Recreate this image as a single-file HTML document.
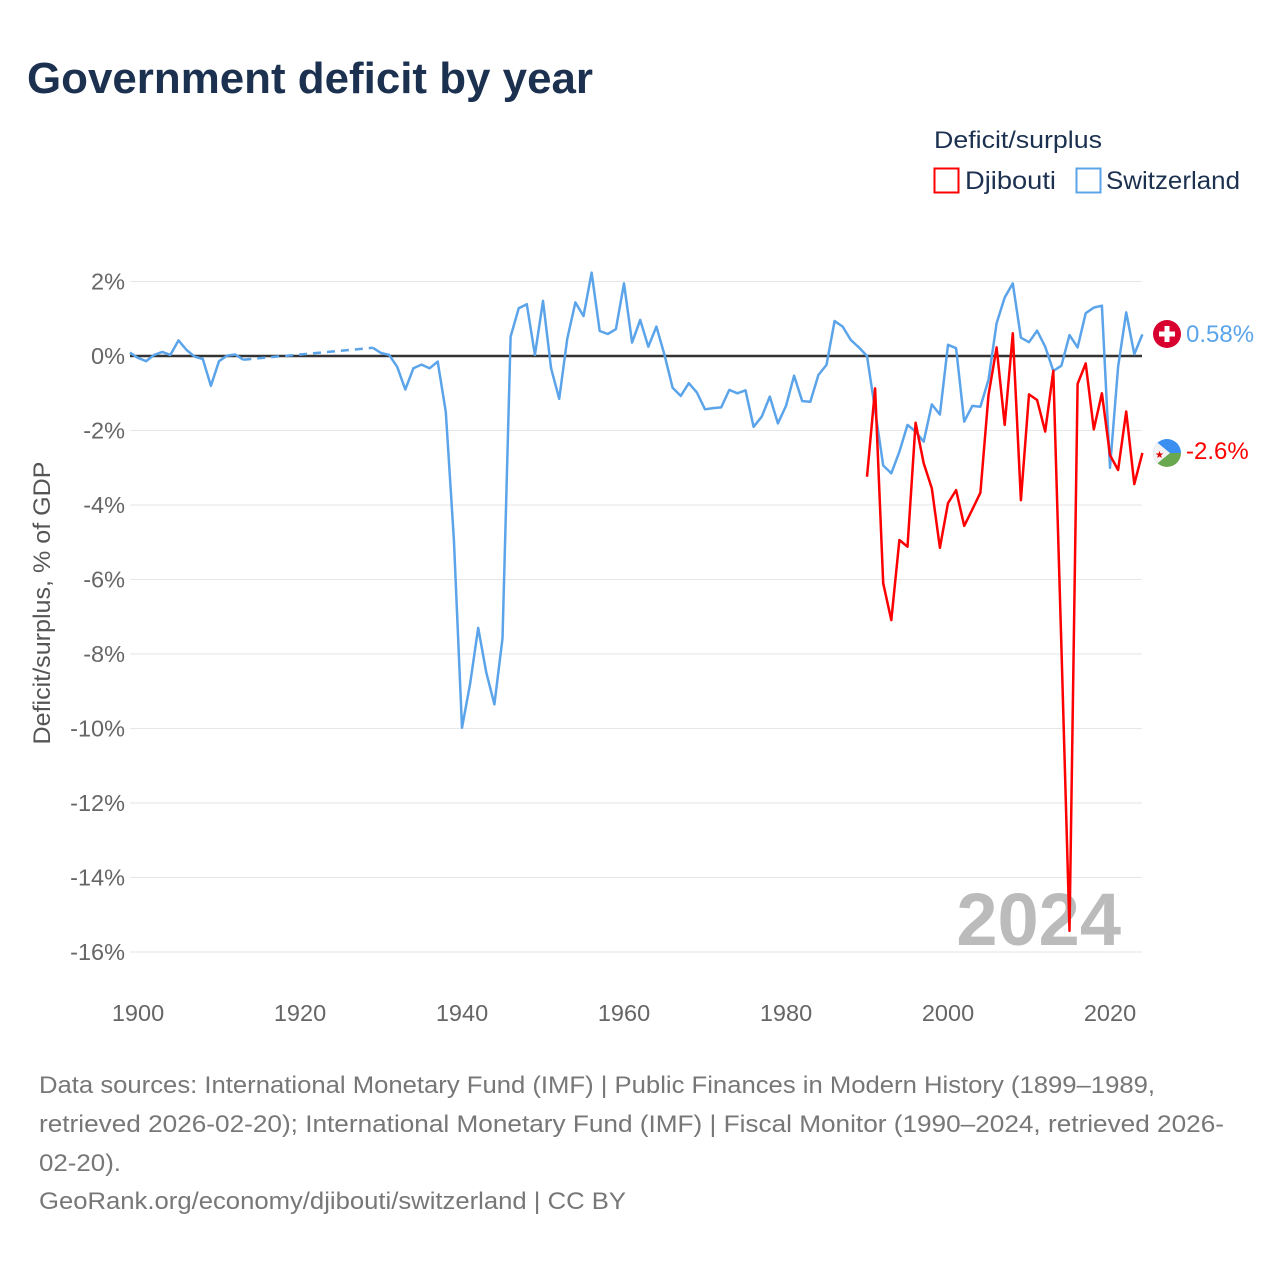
<!DOCTYPE html>
<html><head><meta charset="utf-8"><style>
html,body{margin:0;padding:0;background:#fff;}
svg{display:block;font-family:"Liberation Sans",sans-serif;}
</style></head><body>
<svg id="chart" width="1280" height="1280" viewBox="0 0 1280 1280">
<text x="27" y="93" font-size="44" font-weight="bold" fill="#1c3150" textLength="566" lengthAdjust="spacingAndGlyphs">Government deficit by year</text>
<text x="934" y="148" font-size="24" fill="#1c3150" textLength="168" lengthAdjust="spacingAndGlyphs">Deficit/surplus</text>
<g>
<rect x="934.5" y="168.5" width="24" height="24" fill="none" stroke="#ff0000" stroke-width="2"/>
<text x="965" y="189" font-size="25" fill="#1c3150" textLength="91" lengthAdjust="spacingAndGlyphs">Djibouti</text></g>
<g>
<rect x="1076.5" y="168.5" width="24" height="24" fill="none" stroke="#5ba4ea" stroke-width="2"/>
<text x="1106" y="189" font-size="25" fill="#1c3150" textLength="134" lengthAdjust="spacingAndGlyphs">Switzerland</text></g>
<g id="grid"></g>
<g id="yticks"></g>
<g id="xticks"></g>
<text x="0" y="0" transform="translate(50,603) rotate(-90)" text-anchor="middle" font-size="24" fill="#555" textLength="283" lengthAdjust="spacingAndGlyphs">Deficit/surplus, % of GDP</text>
<text x="1121" y="945" text-anchor="end" font-size="74" font-weight="bold" fill="#bbbbbb">2024</text>
<g id="series"></g>
<g>
<circle cx="1167" cy="334" r="14" fill="#d8002e"/>
<rect x="1164.5" y="326" width="5" height="16" fill="#fff"/><rect x="1159" y="331.5" width="16" height="5" fill="#fff"/>
<text id="lbl-ch" x="1186" y="342" font-size="24" fill="#5ba4ea">0.58%</text></g>
<g>
<clipPath id="dc"><circle cx="1167" cy="453" r="14"/></clipPath>
<g clip-path="url(#dc)">
<rect x="1153" y="439" width="28" height="14" fill="#3a8ff0"/><rect x="1153" y="453" width="28" height="14" fill="#6aa84f"/>
<polygon points="1153,439 1170,453 1153,467" fill="#f2f2f2"/>
<text x="1155" y="458" font-size="10" fill="#d00">★</text></g>
<text id="lbl-dj" x="1186" y="459" font-size="24" fill="#ff0000">-2.6%</text></g>
<g font-size="24" fill="#777">
<text x="39" y="1093" textLength="1116" lengthAdjust="spacingAndGlyphs">Data sources: International Monetary Fund (IMF) | Public Finances in Modern History (1899–1989,</text>
<text x="39" y="1132" textLength="1185" lengthAdjust="spacingAndGlyphs">retrieved 2026-02-20); International Monetary Fund (IMF) | Fiscal Monitor (1990–2024, retrieved 2026-</text>
<text x="39" y="1171" textLength="82" lengthAdjust="spacingAndGlyphs">02-20).</text>
<text x="39" y="1209" textLength="587" lengthAdjust="spacingAndGlyphs">GeoRank.org/economy/djibouti/switzerland | CC BY</text>
</g>
</svg>
<script>
const yTicks = [2,0,-2,-4,-6,-8,-10,-12,-14,-16];
const xTicks = [1900,1920,1940,1960,1980,2000,2020];
const swissYears1 = [1899,1900,1901,1902,1903,1904,1905,1906,1907,1908,1909,1910,1911,1912,1913];
const swissValues1 = [0.09,-0.05,-0.14,0.03,0.11,0.03,0.42,0.16,-0.02,-0.08,-0.8,-0.14,0.01,0.04,-0.1];
const swissGapYears = [1913,1929];
const swissGapValues = [-0.1,0.22];
const swissStart2 = 1929;
const swissValues2 = [0.22,0.08,0.03,-0.29,-0.9,-0.33,-0.23,-0.33,-0.15,-1.5,-4.94,-9.98,-8.8,-7.3,-8.5,-9.35,-7.58,0.52,1.28,1.39,0.03,
1.48,-0.33,-1.15,0.47,1.44,1.07,2.24,0.67,0.59,0.72,1.95,0.36,0.97,0.25,0.79,0.03,-0.85,-1.07,-0.73,-0.98,
-1.43,-1.4,-1.38,-0.91,-1.0,-0.92,-1.9,-1.63,-1.09,-1.81,-1.34,-0.53,-1.21,-1.23,-0.51,-0.24,0.94,0.79,0.43,0.23,
0.0,-1.45,-2.94,-3.15,-2.57,-1.85,-2.03,-2.3,-1.3,-1.57,0.3,0.21,-1.76,-1.34,-1.36,-0.64,0.88,1.57,1.95,0.49,
0.37,0.68,0.25,-0.4,-0.26,0.56,0.23,1.15,1.3,1.35,-3.0,-0.29,1.17,0.05,0.58];
const djiStart = 1990;
const djiValues = [-3.24,-0.87,-6.1,-7.09,-4.94,-5.12,-1.79,-2.88,-3.55,-5.15,-3.95,-3.6,-4.56,-4.12,-3.67,-1.05,0.23,-1.85,0.61,-3.87,
-1.03,-1.18,-2.03,-0.4,-7.8,-15.43,-0.75,-0.2,-1.97,-1.0,-2.66,-3.06,-1.49,-3.44,-2.6];

const NS='http://www.w3.org/2000/svg';
const xS = yr => 138 + (yr-1900)*8.1;
const yS = v => 356 - v*37.25;
function mk(tag, attrs, parent){const e=document.createElementNS(NS,tag);for(const k in attrs)e.setAttribute(k,attrs[k]);parent.appendChild(e);return e;}
const grid=document.getElementById('grid'), yt=document.getElementById('yticks'), xt=document.getElementById('xticks'), ser=document.getElementById('series');
yTicks.forEach(t=>{
  if(t!==0){const l=mk('line',{x1:130,x2:1142,y1:yS(t),y2:yS(t),stroke:'#e6e6e6','stroke-width':1},grid);
  
  }
  const tx=mk('text',{x:125,y:yS(t)+8,'text-anchor':'end','font-size':23.5,fill:'#666'},yt);
  tx.textContent=t+'%';
  
  
});
xTicks.forEach(t=>{
  const tx=mk('text',{x:xS(t),y:1021,'text-anchor':'middle','font-size':23.5,fill:'#666'},xt);
  tx.textContent=t;
  
  
});
const zl=mk('line',{x1:130,x2:1142,y1:yS(0),y2:yS(0),stroke:'#333','stroke-width':2.5},grid);


function path(xs,vs,color,dash,name){
  const d=xs.map((x,i)=>(i?'L':'M')+xS(x).toFixed(1)+','+yS(vs[i]).toFixed(1)).join('');
  const p=mk('path',{d:d,fill:'none',stroke:color,'stroke-width':2.5,'stroke-linejoin':'round'},ser);
  if(dash)p.setAttribute('stroke-dasharray','8,6');
  
  
}
path(swissYears1,swissValues1,'#5ba4ea',false,'line-switzerland-early');
path(swissGapYears,swissGapValues,'#5ba4ea',true,'line-switzerland-gap');
path(swissValues2.map((v,i)=>swissStart2+i),swissValues2,'#5ba4ea',false,'line-switzerland');
path(djiValues.map((v,i)=>djiStart+i),djiValues,'#ff0000',false,'line-djibouti');
</script>
</body></html>
